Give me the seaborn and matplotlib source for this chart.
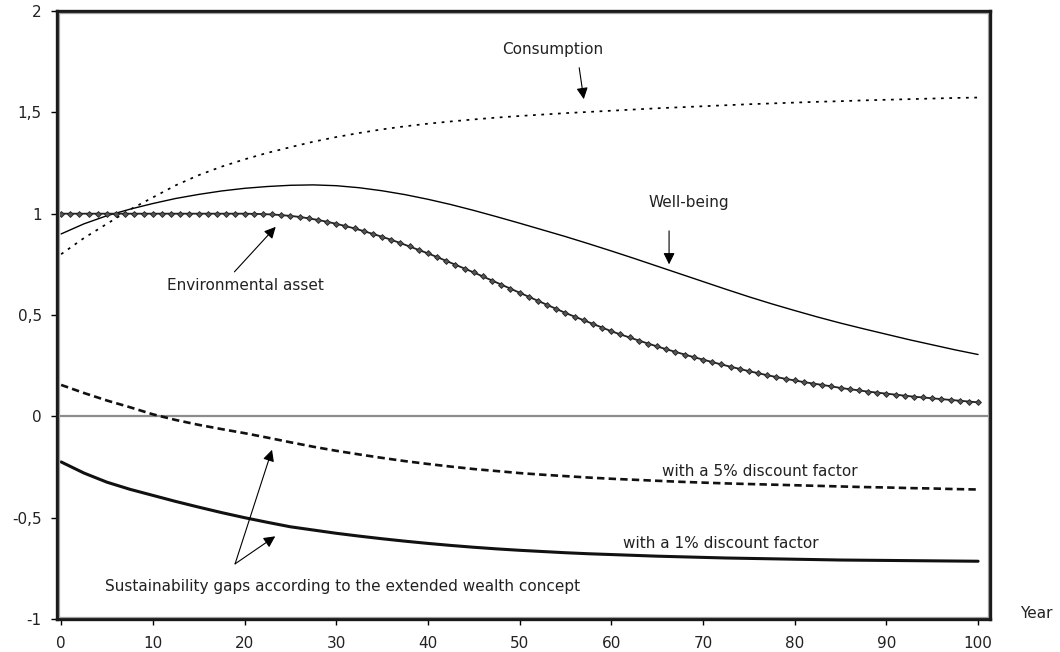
import matplotlib
matplotlib.use("Agg")
import matplotlib.pyplot as plt
from matplotlib.patches import Rectangle
import numpy as np
import pandas as pd
import seaborn as sns

# ---------------- data ----------------
years = [i * 2.5 for i in range(41)]
consumption = [0.80, 0.88, 0.95, 1.02, 1.08, 1.14, 1.19, 1.232, 1.268, 1.30,
               1.328, 1.355, 1.378, 1.398, 1.416, 1.431, 1.444, 1.455, 1.465, 1.474,
               1.482, 1.489, 1.496, 1.502, 1.508, 1.514, 1.52, 1.525, 1.53, 1.535,
               1.54, 1.544, 1.548, 1.552, 1.555, 1.559, 1.562, 1.565, 1.568, 1.571, 1.573]
wellbeing = [0.90, 0.95, 0.99, 1.022, 1.05, 1.075, 1.095, 1.112, 1.125, 1.134,
             1.14, 1.142, 1.138, 1.128, 1.113, 1.094, 1.071, 1.045, 1.016, 0.985,
             0.953, 0.92, 0.887, 0.852, 0.816, 0.779, 0.741, 0.703, 0.665, 0.627,
             0.59, 0.555, 0.522, 0.49, 0.46, 0.432, 0.405, 0.378, 0.353, 0.328, 0.305]
gap_5pct = [0.155, 0.115, 0.078, 0.045, 0.01, -0.018, -0.042, -0.063, -0.083, -0.105,
            -0.128, -0.15, -0.17, -0.188, -0.205, -0.221, -0.235, -0.248, -0.26, -0.27,
            -0.28, -0.288, -0.295, -0.302, -0.308, -0.313, -0.318, -0.323, -0.327, -0.331,
            -0.334, -0.337, -0.34, -0.343, -0.346, -0.349, -0.351, -0.354, -0.356, -0.359, -0.361]
gap_1pct = [-0.225, -0.28, -0.325, -0.36, -0.39, -0.42, -0.448, -0.475, -0.5, -0.523,
            -0.545, -0.561, -0.577, -0.591, -0.604, -0.616, -0.627, -0.637, -0.646, -0.654,
            -0.661, -0.667, -0.673, -0.678, -0.682, -0.686, -0.69, -0.693, -0.696, -0.699,
            -0.701, -0.703, -0.705, -0.707, -0.709, -0.71, -0.711, -0.712, -0.713, -0.714, -0.715]

years1 = list(range(0, 101))
env_asset = [1.0] * 21 + [
    0.999, 0.998, 0.996, 0.993, 0.989, 0.984, 0.977, 0.969, 0.96, 0.95,
    0.939, 0.927, 0.914, 0.90, 0.886, 0.871, 0.855, 0.838, 0.821, 0.804,
    0.786, 0.767, 0.748, 0.729, 0.71, 0.69, 0.67, 0.65, 0.63, 0.61,
    0.59, 0.57, 0.55, 0.53, 0.51, 0.492, 0.474, 0.456, 0.438, 0.42,
    0.404, 0.389, 0.374, 0.359, 0.345, 0.331, 0.318, 0.305, 0.292, 0.28,
    0.268, 0.256, 0.245, 0.234, 0.223, 0.213, 0.203, 0.194, 0.185, 0.177,
    0.169, 0.162, 0.155, 0.148, 0.14, 0.134, 0.128, 0.122, 0.117, 0.112,
    0.107, 0.102, 0.097, 0.093, 0.089, 0.085, 0.081, 0.077, 0.073, 0.069]

x_ticks = list(range(0, 101, 10))
x_tick_labels = [str(v) for v in x_ticks]
y_ticks = [2, 1.5, 1, 0.5, 0, -0.5, -1]
y_tick_labels = ["2", "1,5", "1", "0,5", "0", "-0,5", "-1"]

# ---------------- style ----------------
sns.set_style("white")
plt.rcParams["font.family"] = ["DejaVu Sans"]

fig = plt.figure(figsize=(10.6, 6.52), dpi=100)
ax = fig.add_axes([57 / 1060, 1 - 619 / 652, (990 - 57) / 1060, (619 - 11) / 652])

df = pd.DataFrame({"year": years, "consumption": consumption, "wellbeing": wellbeing,
                   "gap5": gap_5pct, "gap1": gap_1pct})
df1 = pd.DataFrame({"year": years1, "env": env_asset})

ax.axhline(0, color="#8c8c8c", lw=1.6, zorder=1)

sns.lineplot(data=df, x="year", y="consumption", ax=ax, color="black", lw=1.25,
             linestyle=(0, (1.6, 3.2)))
sns.lineplot(data=df, x="year", y="wellbeing", ax=ax, color="black", lw=1.0)
sns.lineplot(data=df1, x="year", y="env", ax=ax, color="#222222", lw=1.3,
             marker="D", markersize=3.0, markerfacecolor="#555555",
             markeredgecolor="#222222", markeredgewidth=0.6)
sns.lineplot(data=df, x="year", y="gap5", ax=ax, color="#111111", lw=1.9,
             linestyle=(0, (2.8, 1.6)))
sns.lineplot(data=df, x="year", y="gap1", ax=ax, color="#111111", lw=2.2)

ax.set_xlim(-0.45, 101.3)
ax.set_ylim(-1, 2)
ax.set_xticks(x_ticks)
ax.set_xticklabels(x_tick_labels)
ax.set_yticks(y_ticks)
ax.set_yticklabels(y_tick_labels)
ax.set_xlabel("")
ax.set_ylabel("")
ax.tick_params(axis="both", which="major", direction="out", length=4, width=1,
               color="black", labelsize=11, labelcolor="#222222",
               left=True, bottom=True)
ax.tick_params(axis="x", pad=8)
ax.tick_params(axis="y", pad=7)

for s in ax.spines.values():
    s.set_visible(True)
    s.set_color("#1a1a1a")
    s.set_linewidth(2.4)
# inner grey line of the frame
dx, dy = 2.2 / 933, 2.2 / 608
ax.add_patch(Rectangle((dx, dy), 1 - 2 * dx, 1 - 2 * dy, transform=ax.transAxes,
                       fill=False, edgecolor="#a0a0a0", lw=0.9, zorder=5, clip_on=False))

txt_kw = dict(fontsize=11, color="#222222", ha="center", va="center")
arrow_kw = dict(arrowstyle="-|>", color="black", lw=0.8, mutation_scale=17,
                shrinkA=0, shrinkB=0)

ax.annotate("", xy=(57.0, 1.565), xytext=(56.5, 1.72), arrowprops=arrow_kw)
ax.text(53.6, 1.81, "Consumption", **txt_kw)

ax.annotate("", xy=(66.3, 0.75), xytext=(66.3, 0.915), arrowprops=arrow_kw)
ax.text(68.5, 1.055, "Well-being", **txt_kw)

ax.annotate("", xy=(23.4, 0.935), xytext=(18.9, 0.713), arrowprops=arrow_kw)
ax.text(20.1, 0.644, "Environmental asset", **txt_kw)

ax.text(76.2, -0.274, "with a 5% discount factor", **txt_kw)
ax.text(71.9, -0.627, "with a 1% discount factor", **txt_kw)

ax.annotate("", xy=(23.0, -0.165), xytext=(18.97, -0.728), arrowprops=arrow_kw)
ax.annotate("", xy=(23.35, -0.592), xytext=(18.97, -0.728), arrowprops=arrow_kw)
ax.text(30.7, -0.839, "Sustainability gaps according to the extended wealth concept", **txt_kw)

fig.text(1036 / 1060, 1 - 614 / 652, "Year", fontsize=11, color="#222222",
         ha="center", va="center")

fig.savefig("out.png", dpi=100, facecolor="white")
